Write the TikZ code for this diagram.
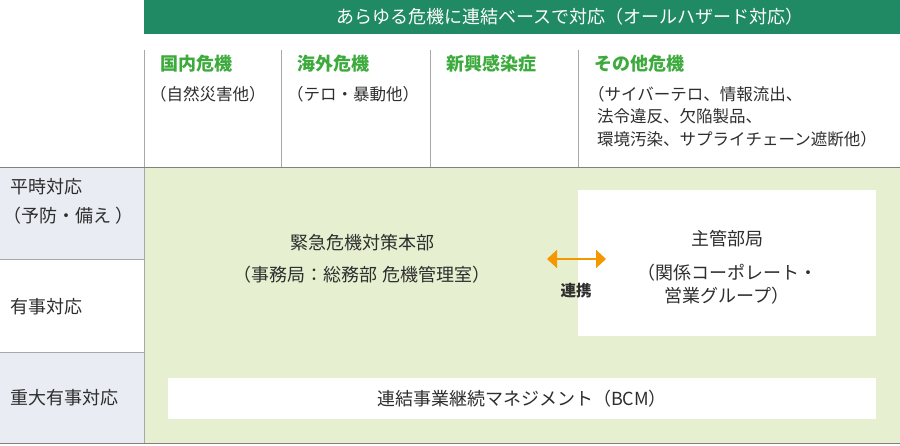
\documentclass[tikz,border=0pt]{standalone}
\usepackage{fontspec}
\setmainfont{Noto Sans CJK JP}
\usepackage{xcolor}
\usetikzlibrary{arrows.meta}

\definecolor{barGreen}{HTML}{1F8A63}
\definecolor{headGreen}{HTML}{3CAA3C}
\definecolor{areaGreen}{HTML}{E6F0D0}
\definecolor{rowGray}{HTML}{E9ECF2}
\definecolor{lineGray}{HTML}{A8A8A8}
\definecolor{textGray}{HTML}{2E2E2E}
\definecolor{linkOrange}{HTML}{F39800}

\tikzset{
  head/.style={anchor=west,inner sep=0pt,font=\fontsize{18}{20}\selectfont\bfseries,text=headGreen},
  sub/.style={anchor=north west,inner sep=0pt,align=left,font=\fontsize{16.5}{22.5}\selectfont,text=textGray},
  rowlabel/.style={anchor=west,inner sep=0pt,align=left,font=\fontsize{18}{29}\selectfont,text=textGray},
  body/.style={inner sep=0pt,align=center,font=\fontsize{18}{32}\selectfont,text=textGray},
  box/.style={fill=white,draw=none,inner sep=0pt}
}

\begin{document}
\begin{tikzpicture}[x=1pt,y=-1pt]
		\useasboundingbox (0,0) rectangle (900,445);
		% background areas
		\fill[areaGreen](144,168) rectangle (900,443);
		\fill[rowGray](0,168) rectangle (144,260);
		\fill[rowGray](0,352) rectangle (144,443);
		\fill[barGreen](144,0) rectangle (900,34);
		\node[inner sep=0pt,text=white,font=\fontsize{18}{20}\selectfont] (title) at (570,17) {あらゆる危機に連結ベースで対応（オールハザード対応）};
		% column lines
		\foreach \x in {281,430,578}
			\draw[lineGray,line width=1pt](\x,50)--(\x,167);
		\draw[lineGray,line width=1pt](144,50)--(144,443);
		\draw[gray,line width=1.5pt](0,167.5)--(900,167.5);
		\draw[lineGray,line width=1pt](0,259.5)--(144,259.5);
		\draw[lineGray,line width=1pt](0,352.5)--(144,352.5);
		\draw[gray,line width=1.2pt](0,443.5)--(900,443.5);
		% column heads
		\node[head] (domestic) at (160,64) {国内危機};
		\node[sub] (domesticsub) at (150,86) {（自然災害他）};
		\node[head] (overseas) at (297,64) {海外危機};
		\node[sub] (overseassub) at (287,86) {（テロ・暴動他）};
		\node[head] (infection) at (446,64) {新興感染症};
		\node[head] (other) at (594,64) {その他危機};
		\node[sub] (othersub) at (588,86) {（サイバーテロ、情報流出、\\\hspace*{9pt}法令違反、欠陥製品、\\\hspace*{9pt}環境汚染、サプライチェーン遮断他）};
		% row labels
		\node[rowlabel] (peace) at (10,201) {平時対応\\\hspace*{-7pt}（予防・備え ）};
		\node[rowlabel] (emergency) at (10,307) {有事対応};
		\node[rowlabel] (severe) at (10,398) {重大有事対応};
		% main boxes
		\node[body] (hq) at (362,259) {緊急危機対策本部\\（事務局：総務部 危機管理室）};
		\node[box,minimum width=298pt,minimum height=146pt] (deptbox) at (727,263) {};
		\node[body,font=\fontsize{18}{23}\selectfont] (dept) at (727,267) {主管部局\\[11pt]（関係コーポレート・\\営業グループ）};
		\node[box,minimum width=708pt,minimum height=41pt] (bcmbox) at (522,398.5) {};
		\node[body] (bcm) at (bcmbox) {連結事業継続マネジメント（BCM）};
		% link arrow
		\coordinate (linkL) at (547,259);
		\coordinate (linkR) at (606,259);
		\draw[{Triangle[length=10pt,width=18pt]}-{Triangle[length=10pt,width=18pt]},linkOrange,line width=2pt](linkL)--(linkR);
		\node[inner sep=0pt,font=\fontsize{15.5}{16}\selectfont\bfseries,text=textGray] (link) at (576,291) {連携};
		\end{tikzpicture}
\end{document}
